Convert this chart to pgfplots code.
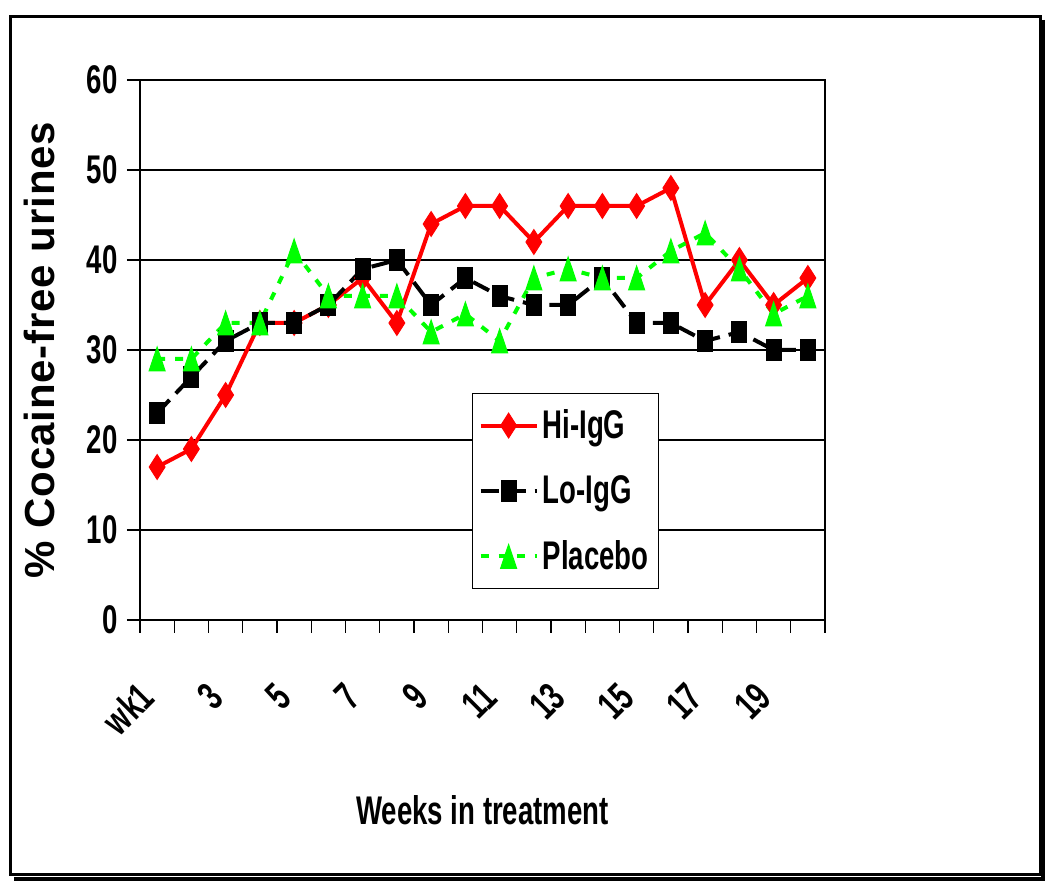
\documentclass[border=0pt]{standalone}
\usepackage{fontspec}
\setmainfont{Liberation Sans}[FakeStretch=0.69]
\newfontfamily\ylabfont{Liberation Sans}[LetterSpace=2]
\usepackage{pgfplots}
\pgfplotsset{compat=1.18}
\definecolor{hired}{RGB}{255,0,0}
\definecolor{plgreen}{RGB}{0,255,0}
\newcommand{\bigfont}{\fontsize{20}{24}\selectfont\bfseries}
\begin{document}
\begin{tikzpicture}
\useasboundingbox (-70pt,-134pt) rectangle (455pt,310pt);
\begin{axis}[
  at={(0pt,0pt)}, anchor=south west,
  scale only axis, width=342.5pt, height=270pt,
  xmin=0.5, xmax=20.5, ymin=0, ymax=60,
  axis line style={line width=0.8pt},
  ytick={0,10,...,60},
  ymajorgrids, grid style={black, line width=0.6pt},
  xtick={0.5,1.5,...,20.5}, xticklabels={},
  extra x ticks={1,3,...,19},
  extra x tick labels={wk1,3,5,7,9,11,13,15,17,19},
  extra x tick style={major tick length=0pt,
     tick label style={yshift=-40pt, rotate=45, anchor=base east, inner sep=0pt}},
  tick align=outside, major tick length=6.5pt,
  tick style={black, line width=0.6pt},
  tick pos=left,
  /pgf/number format/assume math mode=true,
  tick label style={font=\bigfont},
  yticklabel style={anchor=east, inner sep=0pt, xshift=-4.5pt},
  every axis y label/.style={at={(axis description cs:-0.1241,0.5)}, rotate=90, anchor=base},
  ylabel={\% Cocaine-free urines},
  ylabel style={font=\ylabfont\fontsize{21}{25}\selectfont\bfseries},
  every axis x label/.style={at={(axis description cs:0.5,0)}, anchor=base, yshift=-102pt},
  xlabel={Weeks in treatment},
  xlabel style={font=\bigfont},
  legend style={at={(axis description cs:0.4847,0.4204)}, anchor=north west,
     draw=black, line width=0.6pt, fill=white, font=\bigfont,
     row sep=13pt, inner xsep=3pt, inner ysep=6pt, cells={anchor=west}},
  legend image code/.code={\draw[mark repeat=2,mark phase=2,#1] plot coordinates {(0pt,0pt) (14pt,0pt) (28pt,0pt)};},
]
\addplot[hired, line width=2pt, mark=diamond*, mark size=6.2pt,
  mark options={solid, fill=hired, line width=0.5pt, xscale=0.85}]
  coordinates {(1,17) (2,19) (3,25) (4,33) (5,33) (6,35) (7,38) (8,33) (9,44) (10,46)
   (11,46) (12,42) (13,46) (14,46) (15,46) (16,48) (17,35) (18,40) (19,35) (20,38)};
\addlegendentry{Hi-IgG}
\addplot[black, line width=2pt, dash pattern=on 9pt off 4.5pt, mark=square*, mark size=5.4pt,
  mark options={solid, fill=black, line width=0.5pt, xscale=0.7}]
  coordinates {(1,23) (2,27) (3,31) (4,33) (5,33) (6,35) (7,39) (8,40) (9,35) (10,38)
   (11,36) (12,35) (13,35) (14,38) (15,33) (16,33) (17,31) (18,32) (19,30) (20,30)};
\addlegendentry{Lo-IgG}
\addplot[plgreen, line width=2pt, dash pattern=on 4pt off 5pt, mark=triangle*, mark size=8pt,
  mark options={solid, fill=plgreen, line width=0.5pt, yshift=-2pt, xscale=0.58}]
  coordinates {(1,29) (2,29) (3,33) (4,33) (5,41) (6,36) (7,36) (8,36) (9,32) (10,34)
   (11,31) (12,38) (13,39) (14,38) (15,38) (16,41) (17,43) (18,39) (19,34) (20,36)};
\addlegendentry{Placebo}
\end{axis}
\draw[line width=1.5pt] (-64.75pt,-127.5pt) rectangle (450pt,301.75pt);
\draw[line width=2.2pt] (451.6pt,300pt) -- (451.6pt,-129.5pt) -- (-63pt,-129.5pt);
\end{tikzpicture}
\end{document}
